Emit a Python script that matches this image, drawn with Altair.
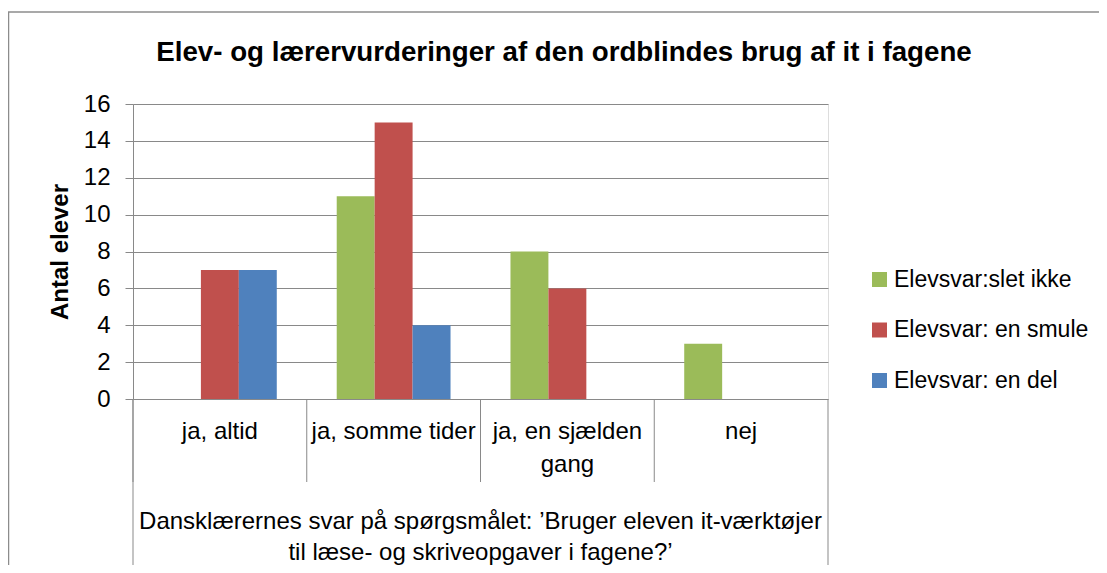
import altair as alt
import pandas as pd

# ---- data ----
categories = ["ja, altid", "ja, somme tider", "ja, en sjælden gang", "nej"]
category_labels = ["ja, altid", "ja, somme tider", "ja, en sjælden\ngang", "nej"]
series = ["Elevsvar:slet ikke", "Elevsvar: en smule", "Elevsvar: en del"]
slet_ikke = [0, 11, 8, 3]
en_smule = [7, 15, 6, 0]
en_del = [7, 4, 0, 0]
colors = ["#9BBB59", "#C0504D", "#4F81BD"]
y_ticks = [0, 2, 4, 6, 8, 10, 12, 14, 16]
chart_title = "Elev- og lærervurderinger af den ordblindes brug af it i fagene"
y_title = "Antal elever"
x_title = "Dansklærernes svar på spørgsmålet: ’Bruger eleven it-værktøjer\ntil læse- og skriveopgaver i fagene?’"

FONT = "Liberation Sans"
GRID = "#898989"
W, H = 695, 295
RIGHT = 271

rows = []
for s, vals in zip(series, [slet_ikke, en_smule, en_del]):
    for c, v in zip(categories, vals):
        rows.append({"cat": c, "series": s, "value": v})
df = pd.DataFrame(rows)

cat_df = pd.DataFrame({"cat": categories, "label": category_labels})

bars = alt.Chart(df).mark_bar().encode(
    x=alt.X("cat:N", sort=categories, axis=None,
            scale=alt.Scale(domain=categories, paddingInner=0.345, paddingOuter=0.1725)),
    xOffset=alt.XOffset("series:N", sort=series,
                        scale=alt.Scale(domain=series, paddingInner=0, paddingOuter=0)),
    y=alt.Y("value:Q",
            scale=alt.Scale(domain=[0, 16], nice=False),
            axis=alt.Axis(values=y_ticks, grid=True, gridColor=GRID, gridOpacity=1,
                          domainColor=GRID, tickColor=GRID, tickSize=8,
                          labelFontSize=24, labelColor="black", labelPadding=15,
                          labelFont=FONT,
                          title=y_title, titleFontSize=24, titleFontWeight="bold",
                          titleColor="black", titleFont=FONT, titlePadding=11)),
    color=alt.Color("series:N", sort=series,
                    scale=alt.Scale(domain=series, range=colors),
                    legend=alt.Legend(orient="none", legendX=735, legendY=164,
                                      padding=0,
                                      title=None, symbolType="square", symbolSize=225,
                                      symbolStrokeWidth=0, labelFontSize=23,
                                      labelFont=FONT, labelColor="black",
                                      rowPadding=26.5, labelOffset=3, labelLimit=400)),
)

sep_scale = alt.Scale(domain=categories, paddingInner=0, paddingOuter=0)

seps = alt.Chart(cat_df).mark_rule(color=GRID, strokeWidth=1).encode(
    x=alt.X("cat:N", sort=categories, axis=None, scale=sep_scale, bandPosition=0),
    y=alt.value(H),
    y2=alt.value(H + 83),
)

edge_df = pd.DataFrame({"cat": [categories[0], categories[-1]]})
left_edge = alt.Chart(edge_df.iloc[[0]]).mark_rule(color=GRID).encode(
    x=alt.X("cat:N", sort=categories, axis=None, scale=sep_scale, bandPosition=0),
    y=alt.value(H), y2=alt.value(H + 166),
)
right_edge = alt.Chart(edge_df.iloc[[1]]).mark_rule(color=GRID).encode(
    x=alt.X("cat:N", sort=categories, axis=None, scale=sep_scale, bandPosition=1),
    y=alt.value(H), y2=alt.value(H + 166),
)

labels = alt.Chart(cat_df).mark_text(
    font=FONT, fontSize=24, color="black", baseline="top", align="center",
    lineBreak="\n", lineHeight=33,
).encode(
    x=alt.X("cat:N", sort=categories, axis=None, scale=sep_scale, bandPosition=0.5),
    y=alt.value(H + 21),
    text="label:N",
)

xt = alt.Chart(pd.DataFrame({"t": [x_title]})).mark_text(
    font=FONT, fontSize=24, color="black", baseline="top", align="center",
    lineBreak="\n", lineHeight=31,
).encode(x=alt.value(W / 2), y=alt.value(H + 111), text="t:N")

title = alt.Chart(pd.DataFrame({"t": [chart_title]})).mark_text(
    font=FONT, fontSize=27.7, fontWeight="bold", color="black",
    baseline="middle", align="center",
).encode(x=alt.value(431), y=alt.value(-51), text="t:N")

frame_top = alt.Chart(pd.DataFrame({"a": [0]})).mark_rule(
    color="#8c8c8c", strokeWidth=1.5,
).encode(x=alt.value(-125), x2=alt.value(W + RIGHT), y=alt.value(-92))
frame_left = alt.Chart(pd.DataFrame({"a": [0]})).mark_rule(
    color="#8c8c8c", strokeWidth=1.5,
).encode(x=alt.value(-124.5), y=alt.value(-92), y2=alt.value(H + 166))

chart = alt.layer(frame_top, frame_left, bars, seps, left_edge, right_edge,
                  labels, xt, title).resolve_scale(
    x="independent"
).properties(
    width=W, height=H,
    autosize=alt.AutoSizeParams(type="none"),
    padding={"left": 125, "top": 96, "right": RIGHT, "bottom": 166},
).configure_view(stroke=None).configure(font=FONT)

chart.save("out.html", embed_options={"renderer": "svg", "actions": False})
